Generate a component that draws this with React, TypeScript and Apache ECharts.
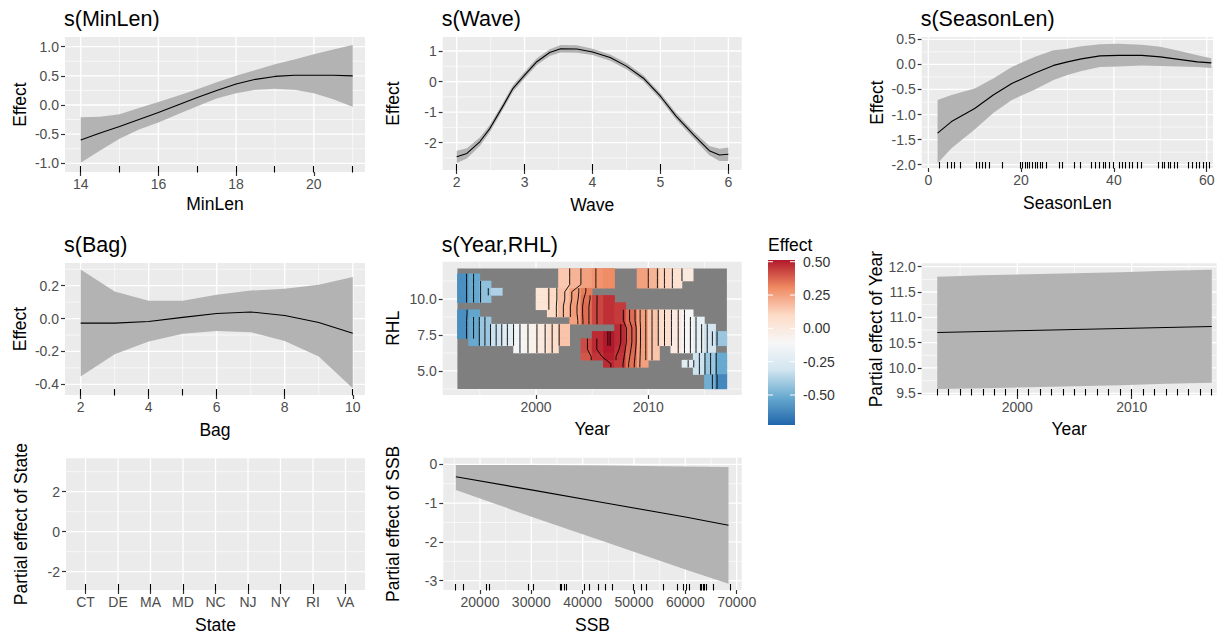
import React, { useEffect, useRef } from 'react';
import * as echarts from 'echarts';

const FONT = '"Liberation Sans", Arial, Helvetica, sans-serif';
const _ = null;

// ---------- s(MinLen) ----------
const MINLEN_X = [14, 14.5, 15, 15.5, 16, 16.5, 17, 17.5, 18, 18.5, 19, 19.5, 20, 20.5, 21];
const MINLEN_FIT = [-0.6, -0.48, -0.37, -0.25, -0.13, 0.0, 0.13, 0.25, 0.36, 0.44, 0.49, 0.51, 0.51, 0.51, 0.5];
const MINLEN_UP = [-0.21, -0.2, -0.16, -0.05, 0.05, 0.16, 0.27, 0.39, 0.5, 0.6, 0.7, 0.78, 0.87, 0.95, 1.03];
const MINLEN_LO = [-0.99, -0.78, -0.58, -0.42, -0.3, -0.16, -0.02, 0.11, 0.2, 0.26, 0.28, 0.26, 0.2, 0.1, -0.03];
const MINLEN_RUG = [14, 15, 16, 17, 18, 19, 20, 21];
const MINLEN_TICKS = [14, 16, 18, 20];
const MINLEN_FX_TICKS = [-1, -0.5, 0, 0.5, 1];

// ---------- s(Wave) ----------
const WAVE_X = [2, 2.15, 2.34, 2.49, 2.69, 2.83, 3, 3.18, 3.37, 3.53, 3.77, 4, 4.26, 4.5, 4.75, 5, 5.23, 5.5, 5.72, 5.87, 6];
const WAVE_FIT = [-2.46, -2.35, -1.97, -1.53, -0.77, -0.22, 0.21, 0.65, 0.95, 1.075, 1.065, 0.97, 0.785, 0.505, 0.11, -0.48, -1.13, -1.77, -2.26, -2.4, -2.38];
const WAVE_UP = [-2.26, -2.18, -1.83, -1.41, -0.66, -0.11, 0.32, 0.76, 1.06, 1.195, 1.185, 1.07, 0.885, 0.605, 0.21, -0.37, -1.02, -1.65, -2.11, -2.2, -2.16];
const WAVE_LO = [-2.66, -2.52, -2.11, -1.65, -0.88, -0.33, 0.1, 0.54, 0.84, 0.955, 0.945, 0.87, 0.685, 0.405, 0.01, -0.59, -1.24, -1.89, -2.41, -2.6, -2.6];
const WAVE_RUG = [2, 3, 4, 5, 6];
const WAVE_TICKS = [2, 3, 4, 5, 6];
const WAVE_FX_TICKS = [-2, -1, 0, 1];

// ---------- s(SeasonLen) ----------
const SEASON_X = [2, 5, 10, 14, 18, 23, 27, 30, 33, 37, 41, 46, 50, 54, 58, 61];
const SEASON_FIT = [-1.37, -1.14, -0.88, -0.61, -0.38, -0.17, -0.02, 0.05, 0.11, 0.17, 0.18, 0.18, 0.15, 0.1, 0.05, 0.03];
const SEASON_UP = [-0.71, -0.61, -0.48, -0.28, -0.05, 0.15, 0.28, 0.31, 0.36, 0.4, 0.41, 0.39, 0.35, 0.27, 0.18, 0.12];
const SEASON_LO = [-1.97, -1.67, -1.3, -0.97, -0.71, -0.5, -0.31, -0.21, -0.13, -0.05, -0.04, -0.02, -0.03, -0.04, -0.05, -0.07];
const SEASON_RUG = [2.4, 4.1, 5.0, 5.7, 7.0, 10.3, 11.0, 11.7, 12.4, 13.1, 16.0, 19.8, 20.3, 20.9, 21.4, 21.9, 22.4, 23.0, 23.5, 24.1, 24.6, 25.5, 28.2, 28.9, 31.5, 32.7, 35.2, 36.1, 36.9, 37.7, 38.2, 39.0, 40.0, 41.2, 41.9, 42.6, 43.3, 44.0, 45.1, 46.0, 49.6, 50.4, 51.0, 51.7, 52.3, 53.0, 53.7, 56.0, 57.0, 57.7, 58.4, 59.3, 60.0, 60.7];
const SEASON_TICKS = [0, 20, 40, 60];
const SEASON_FX_TICKS = [-2, -1.5, -1, -0.5, 0, 0.5];

// ---------- s(Bag) ----------
const BAG_X = [2, 3, 4, 5, 6, 7, 8, 9, 10];
const BAG_FIT = [-0.028, -0.028, -0.018, 0.007, 0.031, 0.04, 0.019, -0.024, -0.089];
const BAG_UP = [0.298, 0.165, 0.108, 0.108, 0.145, 0.17, 0.182, 0.206, 0.253];
const BAG_LO = [-0.353, -0.217, -0.14, -0.093, -0.075, -0.083, -0.136, -0.231, -0.424];
const BAG_RUG = [2, 3, 4, 5, 6, 8, 10];
const BAG_TICKS = [2, 4, 6, 8, 10];
const BAG_FX_TICKS = [-0.4, -0.2, 0, 0.2];

// ---------- s(Year,RHL) ----------
const HEAT_YEARS = [1993.5, 1994.5, 1995.5, 1996.5, 1997.5, 1998.5, 1999.5, 2000.5, 2001.5, 2002.5, 2003.5, 2004.5, 2005.5, 2006.5, 2007.5, 2008.5, 2009.5, 2010.5, 2011.5, 2012.5, 2013.5, 2014.5, 2015.5, 2016.5];
const HEAT_RHL = [12, 11.5, 11, 10.5, 10, 9.5, 9, 8.5, 8, 7.5, 7, 6.5, 6, 5.5, 5, 4.5, 4];
const HEAT_ROWS = [
  [_, _, _, _, _, _, _, _, _, 0.15, 0.2, 0.25, 0.28, 0.3, _, _, 0.25, 0.2, 0.12, 0.05, 0.0, _, _, _],
  [-0.6, -0.52, _, _, _, _, _, _, _, 0.15, 0.2, 0.25, 0.28, 0.3, _, _, 0.25, 0.2, 0.12, 0.05, 0.0, _, _, _],
  [-0.6, -0.52, -0.44, _, _, _, _, _, _, 0.15, 0.2, 0.25, 0.28, 0.3, _, _, 0.25, 0.2, 0.12, 0.05, _, _, _, _],
  [-0.6, -0.52, -0.44, -0.38, _, _, _, 0.03, 0.1, 0.17, 0.25, 0.33, _, _, _, _, _, _, _, _, _, _, _, _],
  [-0.6, -0.52, -0.44, _, _, _, _, 0.03, 0.1, 0.17, 0.25, 0.35, 0.43, 0.47, _, _, _, _, _, _, _, _, _, _],
  [_, _, _, _, _, _, _, 0.03, 0.1, 0.18, 0.26, 0.36, 0.43, 0.47, 0.45, _, _, _, _, _, _, _, _, _],
  [-0.6, -0.53, _, _, _, _, _, _, 0.1, 0.18, 0.26, 0.36, 0.43, 0.47, 0.45, 0.36, 0.25, 0.16, 0.07, -0.01, -0.1, _, _, _],
  [-0.6, -0.52, -0.42, _, _, _, _, _, _, _, 0.25, 0.36, 0.43, 0.47, 0.45, 0.36, 0.25, 0.16, 0.07, -0.01, -0.1, -0.2, _, _],
  [-0.6, -0.52, -0.42, -0.32, -0.22, -0.13, -0.06, 0.0, 0.08, 0.16, _, _, _, _, 0.48, 0.38, 0.25, 0.16, 0.07, -0.01, -0.1, -0.2, -0.3, _],
  [-0.6, -0.52, -0.42, -0.32, -0.22, -0.13, -0.06, 0.0, 0.08, 0.16, _, _, 0.48, 0.53, 0.48, 0.38, 0.25, 0.16, 0.07, -0.01, -0.1, -0.2, -0.3, -0.42],
  [_, -0.52, -0.42, -0.32, -0.22, -0.13, -0.06, 0.0, 0.08, 0.16, _, 0.42, 0.48, 0.53, 0.48, 0.38, 0.25, 0.16, 0.07, -0.01, -0.1, -0.2, -0.3, -0.42],
  [_, _, _, _, _, -0.13, -0.06, 0.0, 0.08, _, _, 0.42, 0.48, 0.52, 0.47, 0.37, 0.25, 0.16, _, -0.01, -0.1, -0.2, -0.3, _],
  [_, _, _, _, _, _, _, _, _, _, _, 0.4, 0.46, 0.5, 0.46, 0.36, 0.25, 0.16, _, _, _, -0.32, -0.42, -0.52],
  [_, _, _, _, _, _, _, _, _, _, _, _, _, 0.48, 0.45, 0.35, 0.25, _, _, _, -0.22, -0.32, -0.42, -0.52],
  [_, _, _, _, _, _, _, _, _, _, _, _, _, _, _, _, _, _, _, _, _, -0.32, -0.42, -0.52],
  [_, _, _, _, _, _, _, _, _, _, _, _, _, _, _, _, _, _, _, _, _, _, -0.5, -0.62],
  [_, _, _, _, _, _, _, _, _, _, _, _, _, _, _, _, _, _, _, _, _, _, -0.5, -0.62],
];
const RASTER_X = [1993, 2017];
const RASTER_Y = [3.75, 12.12];
const CONTOUR_LEVELS = [-0.675, -0.625, -0.575, -0.525, -0.475, -0.425, -0.375, -0.325, -0.275, -0.225, -0.175, -0.125, -0.075, -0.025, 0.025, 0.075, 0.125, 0.175, 0.225, 0.275, 0.325, 0.375, 0.425, 0.475, 0.525];
const YEAR_TICKS = [2000, 2010];
const RHL_TICKS = [5, 7.5, 10];
const LEGEND_MIN = -0.725;
const LEGEND_MAX = 0.513;
const LEGEND_TICKS = [0.5, 0.25, 0, -0.25, -0.5];
const RDBU = ['#2166AC', '#67A9CF', '#D1E5F0', '#F7F7F7', '#FDDBC7', '#EF8A62', '#B2182B'];

// ---------- Year ----------
const YEAR_X = [1993, 1997, 2001, 2005, 2009, 2013, 2017];
const YEAR_FIT = [10.7, 10.72, 10.74, 10.76, 10.78, 10.8, 10.82];
const YEAR_UP = [11.8, 11.83, 11.85, 11.87, 11.89, 11.92, 11.94];
const YEAR_LO = [9.585, 9.6, 9.62, 9.64, 9.66, 9.69, 9.71];
const YEAR_RUG = [1993, 1994, 1995, 1996, 1997, 1998, 1999, 2000, 2001, 2002, 2003, 2004, 2005, 2006, 2007, 2008, 2009, 2010, 2011, 2012, 2013, 2014, 2015, 2016, 2017];
const YEAR_FX_TICKS = [9.5, 10, 10.5, 11, 11.5, 12];

// ---------- State ----------
const STATES = ['CT', 'DE', 'MA', 'MD', 'NC', 'NJ', 'NY', 'RI', 'VA'];
const STATE_POS = [0, 1, 2, 3, 4, 5, 6, 7, 8];
const STATE_FX_TICKS = [-2, 0, 2];

// ---------- SSB ----------
const SSB_X = [15300, 30000, 45000, 60000, 68400];
const SSB_FIT = [-0.32, -0.66, -1.01, -1.36, -1.57];
const SSB_UP = [-0.02, -0.02, -0.03, -0.06, -0.07];
const SSB_LO = [-0.66, -1.35, -2.03, -2.71, -3.08];
const SSB_RUG = [15300, 16800, 21200, 21900, 29400, 30400, 35600, 35900, 36400, 36900, 40300, 41300, 43100, 44500, 45800, 49900, 51500, 52500, 55700, 58500, 59700, 60300, 60900, 62900, 63200, 63500, 63800, 64200, 65500, 68700];
const SSB_TICKS = [20000, 30000, 40000, 50000, 60000, 70000];
const SSB_FX_TICKS = [-3, -2, -1, 0];

// ---------- layout ----------
type Ax = { min: number; max: number; labels: number[]; minor: number[]; fmt: (v: number) => string; name: string; gap: number };
type Panel = { box: number[]; x: Ax; y: Ax; title?: string };

const F1 = (v: number) => v.toFixed(1);
const F0 = (v: number) => String(v);
const FS = (v: number) => STATES[Math.round(v)] ?? '';

const PANELS: Panel[] = [
  {
    box: [65, 37, 300, 135], title: 's(MinLen)',
    x: { min: 13.596, max: 21.317, labels: MINLEN_TICKS, minor: [15, 17, 19, 21], fmt: F0, name: 'MinLen', gap: 23 },
    y: { min: -1.149, max: 1.166, labels: MINLEN_FX_TICKS, minor: [-0.75, -0.25, 0.25, 0.75], fmt: F1, name: 'Effect', gap: 36 },
  },
  {
    box: [442.7, 37, 299, 133], title: 's(Wave)',
    x: { min: 1.794, max: 6.197, labels: WAVE_TICKS, minor: [2.5, 3.5, 4.5, 5.5], fmt: F0, name: 'Wave', gap: 26 },
    y: { min: -2.893, max: 1.458, labels: WAVE_FX_TICKS, minor: [-2.5, -1.5, -0.5, 0.5], fmt: F0, name: 'Effect', gap: 41 },
  },
  {
    box: [921.7, 37, 291.3, 131], title: 's(SeasonLen)',
    x: { min: -1.42, max: 61.36, labels: SEASON_TICKS, minor: [10, 30, 50], fmt: F0, name: 'SeasonLen', gap: 26 },
    y: { min: -2.066, max: 0.546, labels: SEASON_FX_TICKS, minor: [-1.75, -1.25, -0.75, -0.25, 0.25], fmt: F1, name: 'Effect', gap: 36 },
  },
  {
    box: [65, 263, 300, 132], title: 's(Bag)',
    x: { min: 1.54, max: 10.36, labels: BAG_TICKS, minor: [3, 5, 7, 9], fmt: F0, name: 'Bag', gap: 26 },
    y: { min: -0.465, max: 0.338, labels: BAG_FX_TICKS, minor: [-0.3, -0.1, 0.1, 0.3], fmt: F1, name: 'Effect', gap: 36 },
  },
  {
    box: [442.7, 261.7, 299, 133.3], title: 's(Year,RHL)',
    x: { min: 1991.69, max: 2018.32, labels: YEAR_TICKS, minor: [1995, 2005, 2015], fmt: F0, name: 'Year', gap: 25 },
    y: { min: 3.33, max: 12.59, labels: RHL_TICKS, minor: [3.75, 6.25, 8.75, 11.25], fmt: F1, name: 'RHL', gap: 41 },
  },
  {
    box: [921.7, 263.3, 295, 131.7],
    x: { min: 1991.64, max: 2017.43, labels: YEAR_TICKS, minor: [1995, 2005, 2015], fmt: F0, name: 'Year', gap: 25 },
    y: { min: 9.466, max: 12.067, labels: YEAR_FX_TICKS, minor: [9.75, 10.25, 10.75, 11.25, 11.75], fmt: F1, name: 'Partial effect of Year', gap: 36.5 },
  },
  {
    box: [66, 458.3, 299, 131.7],
    x: { min: -0.6, max: 8.6, labels: STATE_POS, minor: [], fmt: FS, name: 'State', gap: 26 },
    y: { min: -2.915, max: 3.67, labels: STATE_FX_TICKS, minor: [-1, 1, 3], fmt: F0, name: 'Partial effect of State', gap: 36.5 },
  },
  {
    box: [443.3, 457.7, 298.4, 132.3],
    x: { min: 12852, max: 70974, labels: SSB_TICKS, minor: [15000, 25000, 35000, 45000, 55000, 65000], fmt: F0, name: 'SSB', gap: 26 },
    y: { min: -3.24, max: 0.17, labels: SSB_FX_TICKS, minor: [-2.5, -1.5, -0.5], fmt: F0, name: 'Partial effect of SSB', gap: 41.5 },
  },
];

const TICK_LABEL = { color: '#4D4D4D', fontSize: 14, fontFamily: FONT };
const AXIS_NAME = { color: '#000', fontSize: 17.5, fontFamily: FONT };

const crisp = (v: number) => Math.round(v - 0.5) + 0.5;

function makeAxis(gi: number, a: Ax, isX: boolean) {
  return {
    type: 'value', gridIndex: gi, min: a.min, max: a.max,
    position: isX ? 'bottom' : 'left',
    axisLine: { show: false, onZero: false },
    axisTick: { show: true, inside: false, customValues: a.labels, length: 4, lineStyle: { color: '#333333', width: 1.2 } },
    axisLabel: { show: true, customValues: a.labels, formatter: (v: number) => a.fmt(v), margin: isX ? 5 : 6, ...TICK_LABEL },
    splitLine: { show: false },
    minorTick: { show: false },
    name: a.name, nameLocation: 'middle', nameGap: a.gap, nameMoveOverlap: false,
    nameTextStyle: AXIS_NAME,
  };
}

function gridLineSeries(gi: number, p: Panel) {
  const items: number[][] = [];
  p.x.labels.forEach((v) => items.push([v, 0]));
  p.x.minor.forEach((v) => items.push([v, 1]));
  p.y.labels.forEach((v) => items.push([v, 2]));
  p.y.minor.forEach((v) => items.push([v, 3]));
  return {
    type: 'custom', xAxisIndex: gi, yAxisIndex: gi, z: 1, silent: true,
    data: items,
    renderItem: (params: any, api: any) => {
      const cs = params.coordSys;
      const v = api.value(0);
      const k = api.value(1);
      const w = k === 0 || k === 2 ? 1.3 : 0.6;
      if (k < 2) {
        const px = api.coord([v, p.y.min])[0];
        return { type: 'line', shape: { x1: px, y1: cs.y, x2: px, y2: cs.y + cs.height }, style: { stroke: '#FFFFFF', lineWidth: w } };
      }
      const py = api.coord([p.x.min, v])[1];
      return { type: 'line', shape: { x1: cs.x, y1: py, x2: cs.x + cs.width, y2: py }, style: { stroke: '#FFFFFF', lineWidth: w } };
    },
  };
}

function bandSeries(gi: number, xs: number[], lo: number[], hi: number[]) {
  return {
    type: 'custom', xAxisIndex: gi, yAxisIndex: gi, z: 2, silent: true,
    data: xs.map((x, i) => [x, lo[i], hi[i]]),
    encode: { x: 0, y: [1, 2] },
    renderItem: (params: any, api: any) => {
      if (params.dataIndex !== 0) return { type: 'group', children: [] };
      const top = xs.map((x, i) => api.coord([x, hi[i]]));
      const bot = xs.map((x, i) => api.coord([x, lo[i]])).reverse();
      return { type: 'polygon', shape: { points: top.concat(bot) }, style: { fill: '#B3B3B3' } };
    },
  };
}

function lineSeries(gi: number, xs: number[], ys: number[]) {
  return {
    type: 'line', xAxisIndex: gi, yAxisIndex: gi, z: 3, silent: true,
    data: xs.map((x, i) => [x, ys[i]]),
    showSymbol: false, symbol: 'none', smooth: false,
    lineStyle: { color: '#000000', width: 1.1 },
  };
}

// rug marks: drawn from the rug values, at the bottom edge of the panel
function rugSeries(gi: number, xs: number[], yMin: number) {
  return {
    type: 'custom', xAxisIndex: gi, yAxisIndex: gi, z: 5, silent: true,
    data: [[xs[0], yMin]],
    renderItem: (params: any, api: any) => {
      const cs = params.coordSys;
      const b = cs.y + cs.height;
      return {
        type: 'group',
        children: xs.map((x) => {
          const px = crisp(api.coord([x, yMin])[0]);
          return { type: 'line', shape: { x1: px, y1: b - 6, x2: px, y2: b + 0.5 }, style: { stroke: '#000000', lineWidth: 1.1 } };
        }),
      };
    },
  };
}

function heatCells() {
  const out: number[][] = [];
  HEAT_ROWS.forEach((row, r) => row.forEach((v, c) => { if (v !== null) out.push([HEAT_YEARS[c], HEAT_RHL[r], v as number]); }));
  return out;
}

function contourSegments() {
  type Cross = { L: number; x: number; r: number; up: boolean; down: boolean };
  const byRow: Cross[][] = HEAT_RHL.map(() => []);
  HEAT_ROWS.forEach((row, r) => {
    for (let c = 0; c < row.length - 1; c++) {
      const a = row[c];
      const b = row[c + 1];
      if (a === null || b === null) continue;
      CONTOUR_LEVELS.forEach((L) => {
        if ((a < L) !== (b < L)) {
          const t = (L - a) / (b - a);
          byRow[r].push({ L, x: HEAT_YEARS[c] + t * (HEAT_YEARS[c + 1] - HEAT_YEARS[c]), r, up: false, down: false });
        }
      });
    }
  });
  const segs: number[][][] = [];
  for (let r = 0; r < byRow.length - 1; r++) {
    byRow[r].forEach((p) => {
      let best: Cross | null = null;
      byRow[r + 1].forEach((q) => {
        if (q.L === p.L && !q.up && Math.abs(q.x - p.x) < 1.2) {
          if (!best || Math.abs(q.x - p.x) < Math.abs((best as Cross).x - p.x)) best = q;
        }
      });
      if (best) {
        const q = best as Cross;
        q.up = true;
        p.down = true;
        segs.push([[p.x, HEAT_RHL[r]], [q.x, HEAT_RHL[r + 1]]]);
      }
    });
  }
  byRow.forEach((row, r) => row.forEach((p) => {
    if (!p.up) segs.push([[p.x, HEAT_RHL[r]], [p.x, Math.min(HEAT_RHL[r] + 0.25, RASTER_Y[1])]]);
    if (!p.down) segs.push([[p.x, HEAT_RHL[r]], [p.x, Math.max(HEAT_RHL[r] - 0.25, RASTER_Y[0])]]);
  }));
  return segs;
}

function buildOption() {
  const grids = PANELS.map((p) => ({
    left: p.box[0], top: p.box[1], width: p.box[2], height: p.box[3],
    show: true, backgroundColor: '#EBEBEB', borderWidth: 0, containLabel: false, outerBoundsMode: 'none',
  }));
  const xAxis = PANELS.map((p, i) => makeAxis(i, p.x, true));
  const yAxis = PANELS.map((p, i) => makeAxis(i, p.y, false));
  const series: any[] = [];
  PANELS.forEach((p, i) => series.push(gridLineSeries(i, p)));

  series.push(bandSeries(0, MINLEN_X, MINLEN_LO, MINLEN_UP), lineSeries(0, MINLEN_X, MINLEN_FIT), rugSeries(0, MINLEN_RUG, PANELS[0].y.min));
  series.push(bandSeries(1, WAVE_X, WAVE_LO, WAVE_UP), lineSeries(1, WAVE_X, WAVE_FIT), rugSeries(1, WAVE_RUG, PANELS[1].y.min));
  series.push(bandSeries(2, SEASON_X, SEASON_LO, SEASON_UP), lineSeries(2, SEASON_X, SEASON_FIT), rugSeries(2, SEASON_RUG, PANELS[2].y.min));
  series.push(bandSeries(3, BAG_X, BAG_LO, BAG_UP), lineSeries(3, BAG_X, BAG_FIT), rugSeries(3, BAG_RUG, PANELS[3].y.min));
  series.push(bandSeries(5, YEAR_X, YEAR_LO, YEAR_UP), lineSeries(5, YEAR_X, YEAR_FIT), rugSeries(5, YEAR_RUG, PANELS[5].y.min));
  series.push(rugSeries(6, STATE_POS, PANELS[6].y.min));
  series.push(bandSeries(7, SSB_X, SSB_LO, SSB_UP), lineSeries(7, SSB_X, SSB_FIT), rugSeries(7, SSB_RUG, PANELS[7].y.min));

  // raster mask
  series.push({
    type: 'custom', xAxisIndex: 4, yAxisIndex: 4, z: 2, silent: true,
    data: [[RASTER_X[0], RASTER_Y[0], RASTER_X[1], RASTER_Y[1]]],
    encode: { x: [0, 2], y: [1, 3] },
    renderItem: (params: any, api: any) => {
      const a = api.coord([api.value(0), api.value(3)]);
      const b = api.coord([api.value(2), api.value(1)]);
      return { type: 'rect', shape: { x: a[0], y: a[1], width: b[0] - a[0], height: b[1] - a[1] }, style: { fill: '#7F7F7F' } };
    },
  });
  const heatIndex = series.length;
  series.push({
    type: 'custom', xAxisIndex: 4, yAxisIndex: 4, z: 3, silent: true,
    data: heatCells(),
    encode: { x: 0, y: 1 },
    renderItem: (params: any, api: any) => {
      const x = api.value(0);
      const y = api.value(1);
      const a = api.coord([Math.max(x - 0.5, RASTER_X[0]), Math.min(y + 0.25, RASTER_Y[1])]);
      const b = api.coord([Math.min(x + 0.5, RASTER_X[1]), Math.max(y - 0.25, RASTER_Y[0])]);
      return {
        type: 'rect',
        shape: { x: a[0] - 0.3, y: a[1] - 0.3, width: b[0] - a[0] + 0.6, height: b[1] - a[1] + 0.6 },
        style: { fill: api.visual('color') },
      };
    },
  });
  const segs = contourSegments();
  series.push({
    type: 'custom', xAxisIndex: 4, yAxisIndex: 4, z: 4, silent: true,
    data: [[HEAT_YEARS[0], HEAT_RHL[0]]],
    renderItem: (params: any, api: any) => ({
      type: 'group',
      children: segs.map((s) => {
        const p = api.coord(s[0]);
        const q = api.coord(s[1]);
        return { type: 'line', shape: { x1: p[0], y1: p[1], x2: q[0], y2: q[1] }, style: { stroke: '#000000', lineWidth: 0.9 } };
      }),
    }),
  });

  const titles = PANELS.filter((p) => p.title).map((p) => ({
    text: p.title, left: p.box[0] - 1, top: 8 + (p.box[1] > 200 ? 226 : 0), padding: 0,
    textStyle: { fontSize: 21.5, fontWeight: 'normal', color: '#000', fontFamily: FONT },
  }));

  const LX = 768, LY = 260, LW = 27, LH = 165;
  const legY = (v: number) => LY + ((LEGEND_MAX - v) / (LEGEND_MAX - LEGEND_MIN)) * LH;
  const stops = RDBU.slice().reverse().map((c, i) => ({ offset: i / (RDBU.length - 1), color: c }));
  const graphic: any[] = [
    { type: 'text', x: LX, y: 245, style: { text: 'Effect', fontSize: 17.5, fontFamily: FONT, fill: '#000', verticalAlign: 'middle' } },
    { type: 'rect', shape: { x: LX, y: LY, width: LW, height: LH }, style: { fill: new echarts.graphic.LinearGradient(0, 0, 0, 1, stops) } },
  ];
  LEGEND_TICKS.forEach((v) => {
    const y = legY(v);
    graphic.push({ type: 'line', shape: { x1: LX, y1: y, x2: LX + 5, y2: y }, style: { stroke: '#FFFFFF', lineWidth: 1 } });
    graphic.push({ type: 'line', shape: { x1: LX + LW - 5, y1: y, x2: LX + LW, y2: y }, style: { stroke: '#FFFFFF', lineWidth: 1 } });
    graphic.push({ type: 'text', x: LX + LW + 8, y, style: { text: v.toFixed(2), fontSize: 14, fontFamily: FONT, fill: '#333333', verticalAlign: 'middle' } });
  });

  return {
    animation: false,
    backgroundColor: '#FFFFFF',
    textStyle: { fontFamily: FONT },
    title: titles,
    grid: grids,
    xAxis,
    yAxis,
    visualMap: [{
      type: 'continuous', show: false, seriesIndex: heatIndex, dimension: 2,
      min: LEGEND_MIN, max: LEGEND_MAX, inRange: { color: RDBU },
    }],
    graphic,
    series,
  };
}

export default function App() {
  const ref = useRef<HTMLDivElement>(null);
  useEffect(() => {
    const chart = echarts.init(ref.current as HTMLDivElement, null, { renderer: 'svg' });
    chart.setOption(buildOption() as any);
    return () => chart.dispose();
  }, []);
  return <div ref={ref} style={{ position: 'absolute', left: 0, top: 0, width: 1231, height: 639, background: '#fff' }} />;
}
